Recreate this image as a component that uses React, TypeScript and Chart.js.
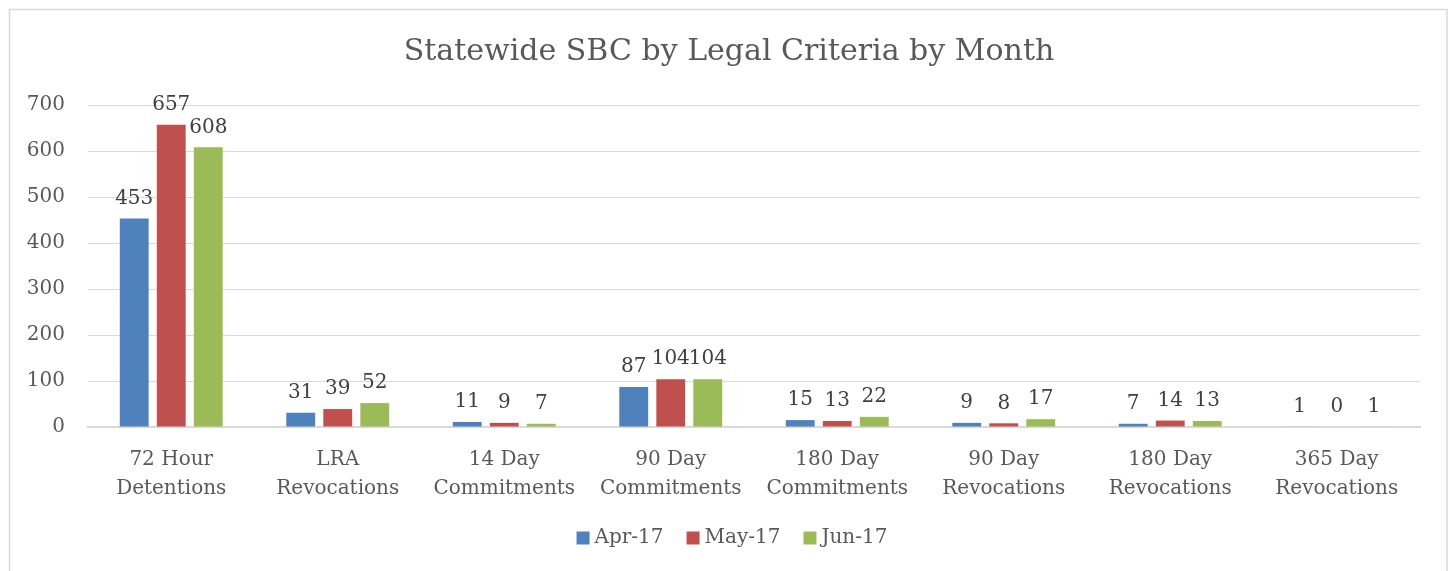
import React, { useEffect, useRef } from "react";
import { Chart, registerables } from "chart.js";

Chart.register(...registerables);

const categories: string[][] = [
  ["72 Hour", "Detentions"],
  ["LRA", "Revocations"],
  ["14 Day", "Commitments"],
  ["90 Day", "Commitments"],
  ["180 Day", "Commitments"],
  ["90 Day", "Revocations"],
  ["180 Day", "Revocations"],
  ["365 Day", "Revocations"],
];
const seriesNames = ["Apr-17", "May-17", "Jun-17"];
const apr17 = [453, 31, 11, 87, 15, 9, 7, 1];
const may17 = [657, 39, 9, 104, 13, 8, 14, 0];
const jun17 = [608, 52, 7, 104, 22, 17, 13, 1];
const colors = ["#4f81bd", "#c0504d", "#9bbb59"];
const titleText = "Statewide SBC by Legal Criteria by Month";

const FONT = "'DejaVu Serif', serif";

const borderPlugin = {
  id: "outerBorder",
  beforeDraw(chart: any) {
    const ctx = chart.ctx;
    ctx.save();
    ctx.fillStyle = "#ffffff";
    ctx.fillRect(0, 0, chart.width, chart.height);
    ctx.strokeStyle = "#d9d9d9";
    ctx.lineWidth = 1.5;
    ctx.strokeRect(9.5, 9.5, 1437.5, chart.height + 10);
    ctx.restore();
  },
};

const titlePlugin = {
  id: "centeredTitle",
  afterDraw(chart: any) {
    const ctx = chart.ctx;
    ctx.save();
    ctx.font = `30px ${FONT}`;
    ctx.fillStyle = "#595959";
    ctx.textAlign = "center";
    ctx.textBaseline = "middle";
    ctx.fillText(titleText, 729, 52);
    ctx.restore();
  },
};

const labelPlugin = {
  id: "valueLabels",
  afterDatasetsDraw(chart: any) {
    const ctx = chart.ctx;
    ctx.save();
    ctx.font = `20px ${FONT}`;
    ctx.fillStyle = "#404040";
    ctx.textAlign = "center";
    ctx.textBaseline = "middle";
    chart.data.datasets.forEach((ds: any, i: number) => {
      const meta = chart.getDatasetMeta(i);
      meta.data.forEach((bar: any, j: number) => {
        ctx.fillText(String(ds.data[j]), bar.x, bar.y - 20);
      });
    });
    ctx.restore();
  },
};

const legendPlugin = {
  id: "customLegend",
  afterDraw(chart: any) {
    const ctx = chart.ctx;
    ctx.save();
    ctx.font = `20px ${FONT}`;
    ctx.textBaseline = "middle";
    ctx.textAlign = "left";
    const box = 13;
    const gap = 5;
    const itemGap = 23;
    const items = chart.data.datasets.map((ds: any) => ({
      label: ds.label,
      color: ds.backgroundColor,
      w: ctx.measureText(ds.label).width,
    }));
    const total =
      items.reduce((s: number, it: any) => s + box + gap + it.w, 0) +
      itemGap * (items.length - 1);
    let x = 732 - total / 2;
    const y = 538;
    items.forEach((it: any) => {
      ctx.fillStyle = it.color;
      ctx.fillRect(x, y - box / 2, box, box);
      ctx.fillStyle = "#595959";
      ctx.fillText(it.label, x + box + gap, y);
      x += box + gap + it.w + itemGap;
    });
    ctx.restore();
  },
};

export default function App() {
  const ref = useRef<HTMLCanvasElement>(null);
  useEffect(() => {
    if (!ref.current) return;
    const seriesData = [apr17, may17, jun17];
    const chart = new Chart(ref.current, {
      type: "bar",
      data: {
        labels: categories,
        datasets: seriesNames.map((name, i) => ({
          label: name,
          data: seriesData[i],
          backgroundColor: colors[i],
          borderWidth: 0,
          categoryPercentage: 0.667,
          barPercentage: 0.78,
        })),
      },
      options: {
        responsive: false,
        animation: false,
        layout: { padding: { left: 0, right: 32, top: 105, bottom: 70 } },
        plugins: {
          title: { display: false },
          legend: { display: false },
          tooltip: { enabled: false },
        },
        scales: {
          x: {
            grid: { display: false },
            border: { display: true, color: "#d9d9d9", width: 2 },
            ticks: {
              color: "#595959",
              font: { family: FONT, size: 20, lineHeight: 1.45 },
              padding: 10,
              maxRotation: 0,
              autoSkip: false,
            },
            afterFit(scale: any) {
              scale.height = 74;
            },
          },
          y: {
            min: 0,
            max: 700,
            ticks: {
              stepSize: 100,
              color: "#595959",
              font: { family: FONT, size: 20 },
              padding: 23,
            },
            grid: { color: "#d9d9d9", lineWidth: 1, drawTicks: false },
            border: { display: false },
            afterFit(scale: any) {
              scale.width = 88;
            },
          },
        },
      },
      plugins: [borderPlugin, labelPlugin, legendPlugin, titlePlugin],
    });
    return () => chart.destroy();
  }, []);
  return (
    <div style={{ position: "absolute", left: 0, top: 0, width: 1452, height: 571 }}>
      <canvas ref={ref} width={1452} height={571} />
    </div>
  );
}
